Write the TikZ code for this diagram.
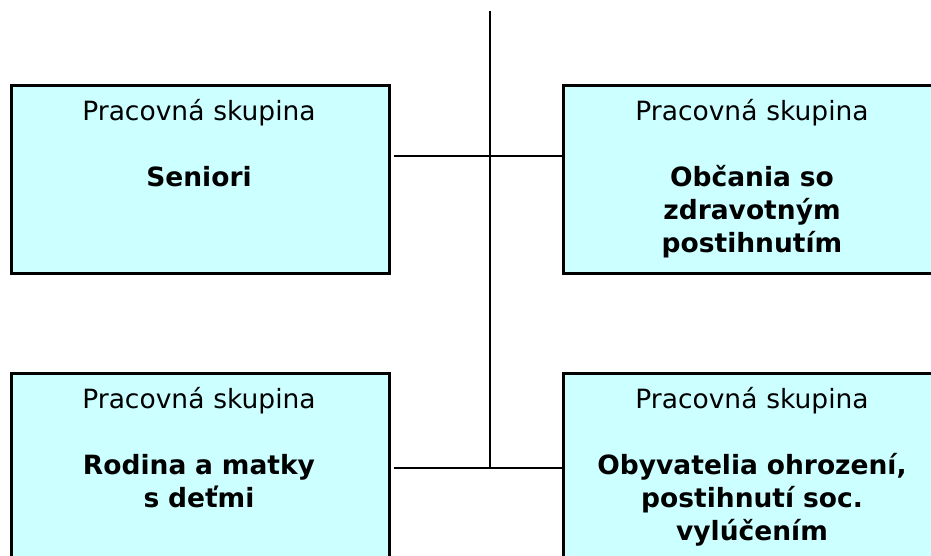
\documentclass[tikz,border=0pt]{standalone}
\usepackage{fontspec}
\setmainfont{DejaVu Sans}
\definecolor{boxfill}{HTML}{CCFFFF}
\begin{document}
\begin{tikzpicture}[x=1pt,y=-1pt,
  groupbox/.style={draw=black, line width=3pt, fill=boxfill, inner sep=0pt, anchor=north west, minimum width=378pt, minimum height=188pt},
  lbl/.style={font=\fontsize{26.5}{33}\selectfont, align=center, text width=370pt, inner sep=0pt, anchor=base},
  conn/.style={draw=black, line width=2pt}]
\useasboundingbox (0,0) rectangle (931,555);
\begin{scope}
\clip (0,0) rectangle (931,555);
\node[groupbox] (b1) at (10,84) {};
\node[groupbox] (b2) at (562,84) {};
\node[groupbox] (b3) at (10,372) {};
\node[groupbox] (b4) at (562,372) {};
\node[lbl] (t1) at (199,120) {Pracovná skupina\\[33pt]\textbf{Seniori}};
\node[lbl] (t2) at (752,120) {Pracovná skupina\\[33pt]\textbf{Občania so}\\\textbf{zdravotným}\\\textbf{postihnutím}};
\node[lbl] (t3) at (199,408) {Pracovná skupina\\[33pt]\textbf{Rodina a matky}\\\textbf{s deťmi}};
\node[lbl] (t4) at (752,408) {Pracovná skupina\\[33pt]\textbf{Obyvatelia ohrození,}\\\textbf{postihnutí soc.}\\\textbf{vylúčením}};
\coordinate (top) at (490,11);
\coordinate (j1) at (490,156);
\coordinate (j2) at (490,468);
\draw[conn] (top) -- (j2);
\draw[conn, shorten <=3pt] (b1.east |- j1) -- (b2.west |- j1);
\draw[conn, shorten <=3pt] (b3.east |- j2) -- (b4.west |- j2);
\end{scope}
\end{tikzpicture}
\end{document}
